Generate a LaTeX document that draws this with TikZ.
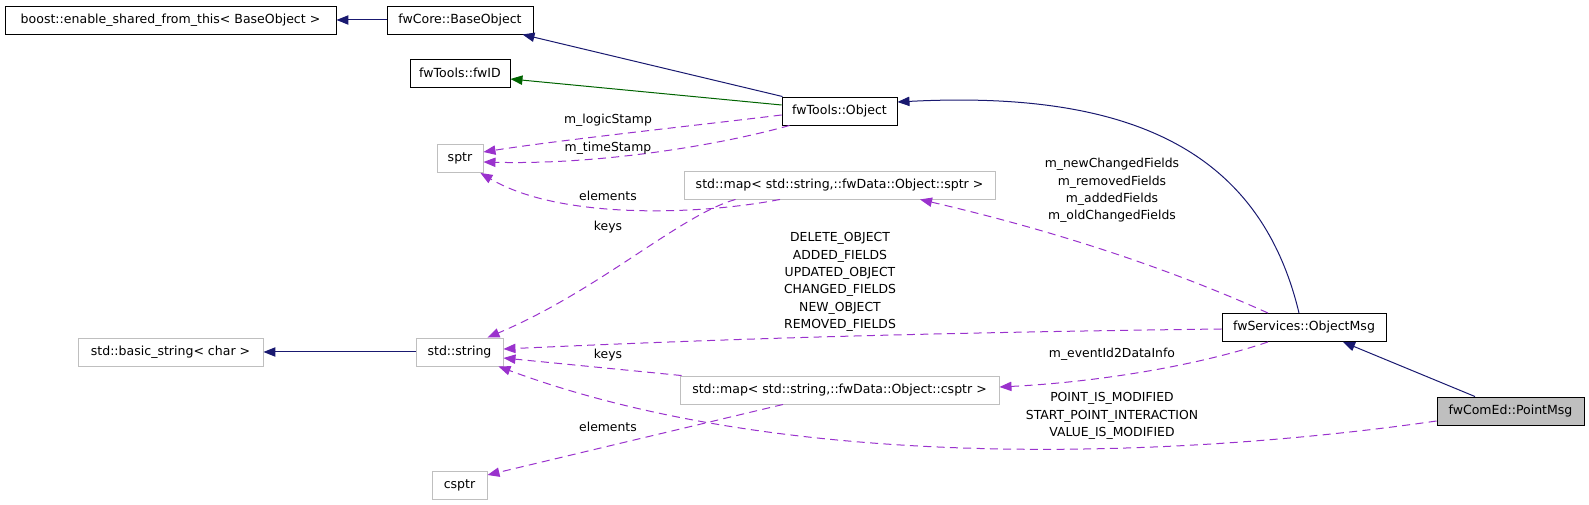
\documentclass[tikz,border=0pt]{standalone}
\usepackage{fontspec}
\setmainfont{DejaVu Sans}
\usetikzlibrary{arrows.meta,calc}
\definecolor{mblue}{HTML}{191970}
\definecolor{dgreen}{HTML}{006400}
\definecolor{orchid}{HTML}{9A32CD}
\definecolor{grayb}{HTML}{BFBFBF}
\begin{document}
\begin{tikzpicture}[x=0.75pt,y=-0.75pt,
  cls/.style={draw=black,line width=0.7pt,minimum height=21pt,inner sep=0pt,font=\fontsize{9.4}{13}\selectfont},
  ext/.style={cls,draw=grayb},
  lbl/.style={inner sep=0pt,align=center,font=\fontsize{9.3}{13}\selectfont},
  tip/.style={-{Triangle[length=9pt,width=7pt]}},
  inh/.style={draw=mblue,line width=0.75pt,tip},
  inhg/.style={draw=dgreen,line width=0.75pt,tip},
  dep/.style={draw=orchid,line width=0.75pt,dash pattern=on 6pt off 4pt,tip}
]
\path[use as bounding box] (0,0) rectangle (1589,505);

% nodes
\node[cls,minimum width=248.25pt] (boost) at (170.5,20) {boost::enable\_shared\_from\_this< BaseObject >};
\node[cls,minimum width=109.5pt] (base) at (460,20) {fwCore::BaseObject};
\node[cls,minimum width=75pt] (fwid) at (460,73) {fwTools::fwID};
\node[cls,minimum width=86.25pt] (obj) at (839.5,111) {fwTools::Object};
\node[ext,minimum width=34.5pt] (sptr) at (460,158.5) {sptr};
\node[ext,minimum width=233.25pt] (mapsptr) at (839.5,185) {std::map< std::string,::fwData::Object::sptr >};
\node[ext,minimum width=138.75pt] (basicstr) at (170.5,352) {std::basic\_string< char >};
\node[ext,minimum width=65.25pt] (str) at (459.5,352) {std::string};
\node[cls,minimum width=123pt] (omsg) at (1304,327.5) {fwServices::ObjectMsg};
\node[ext,minimum width=239.25pt] (mapcsptr) at (839.5,390) {std::map< std::string,::fwData::Object::csptr >};
\node[cls,fill=grayb,minimum width=110.25pt] (pmsg) at (1510.5,411) {fwComEd::PointMsg};
\node[ext,minimum width=41.25pt] (csptr) at (459.5,485) {csptr};

% inheritance
\draw[inh] (base.west) -- (boost.east);
\draw[inh] ($(obj.north west)+(1,0)$) -- ($(base.south east)+(-11,0)$);
\draw[inhg] ($(obj.west)+(0,-6)$) -- ($(fwid.east)+(0,6)$);
\draw[inh] ($(omsg.north)+(-5,0)$) .. controls (1260,150) and (1130,90) .. ($(obj.east)+(0,-9)$);
\draw[inh] ($(pmsg.north)+(-35.5,0)$) -- ($(omsg.south)+(39,0)$);
\draw[inh] (str.west) -- (basicstr.east);

% usage
\draw[dep] ($(obj.west)+(0,4)$) .. controls (700,125) and (560,140) .. ($(sptr.east)+(0,-6.5)$);
\draw[dep] ($(obj.south west)+(8,0)$) .. controls (720,145) and (600,165) .. ($(sptr.east)+(0,3.5)$);
\draw[dep] ($(mapsptr.south)+(-59.5,0)$) .. controls (700,215) and (560,220) .. ($(sptr.south east)+(-3,0)$);
\draw[dep] ($(mapsptr.south)+(-104,0)$) .. controls (680,215) and (600,290) .. ($(str.north east)+(-16,0)$);
\draw[dep] ($(omsg.north)+(-36,0)$) .. controls (1150,260) and (1030,225) .. ($(mapsptr.south)+(80.5,0)$);
\draw[dep] ($(omsg.west)+(0,1.5)$) .. controls (900,333) and (700,340) .. ($(str.east)+(0,-3)$);
\draw[dep] ($(omsg.south)+(-36,0)$) .. controls (1200,365) and (1100,382) .. ($(mapcsptr.east)+(0,-3)$);
\draw[dep] ($(pmsg.west)+(0,10)$) .. controls (1200,455) and (800,478) .. ($(str.south east)+(-5,0)$);
\draw[dep] ($(mapcsptr.north west)+(2,0)$) -- ($(str.east)+(0,6)$);
\draw[dep] ($(mapcsptr.south)+(-56.5,0)$) -- ($(csptr.east)+(0,-10)$);

% labels
\node[lbl] (l1) at (608,120) {m\_logicStamp};
\node[lbl] (l2) at (608,148) {m\_timeStamp};
\node[lbl] (l3) at (608,196) {elements};
\node[lbl] (l4) at (608,227) {keys};
\node[lbl] (l5) at (1112,190.5) {m\_newChangedFields\\m\_removedFields\\m\_addedFields\\m\_oldChangedFields};
\node[lbl] (l6) at (840,282) {DELETE\_OBJECT\\ADDED\_FIELDS\\UPDATED\_OBJECT\\CHANGED\_FIELDS\\NEW\_OBJECT\\REMOVED\_FIELDS};
\node[lbl] (l7) at (608,355) {keys};
\node[lbl] (l8) at (1112,354) {m\_eventId2DataInfo};
\node[lbl] (l9) at (1112,416) {POINT\_IS\_MODIFIED\\START\_POINT\_INTERACTION\\VALUE\_IS\_MODIFIED};
\node[lbl] (l10) at (608,427) {elements};
\end{tikzpicture}
\end{document}
